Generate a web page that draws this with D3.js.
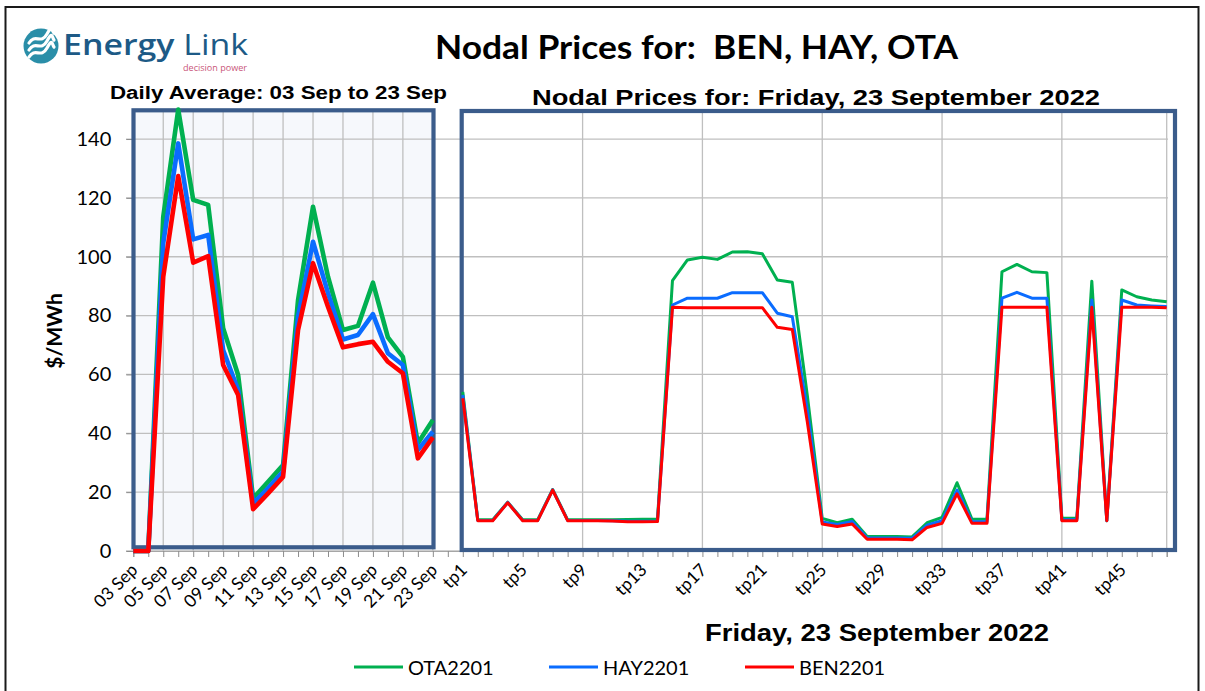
<!DOCTYPE html>
<html>
<head>
<meta charset="utf-8">
<script src="https://cdn.jsdelivr.net/npm/d3@7"></script>
<style>
    body { margin: 0; background: white; }
    text { white-space: pre; }
</style>
</head>
<body>
<svg id="chart" width="1205" height="691"></svg>
<script>

//  categories: the daily averages, then an empty slot, then the trading periods of the day
const days = ["03 Sep", "04 Sep", "05 Sep", "06 Sep", "07 Sep", "08 Sep", "09 Sep", "10 Sep", "11 Sep",
    "12 Sep", "13 Sep", "14 Sep", "15 Sep", "16 Sep", "17 Sep", "18 Sep", "19 Sep", "20 Sep", "21 Sep",
    "22 Sep", "23 Sep"];
const periods = ["tp1", "tp2", "tp3", "tp4", "tp5", "tp6", "tp7", "tp8", "tp9", "tp10", "tp11", "tp12",
    "tp13", "tp14", "tp15", "tp16", "tp17", "tp18", "tp19", "tp20", "tp21", "tp22", "tp23", "tp24",
    "tp25", "tp26", "tp27", "tp28", "tp29", "tp30", "tp31", "tp32", "tp33", "tp34", "tp35", "tp36",
    "tp37", "tp38", "tp39", "tp40", "tp41", "tp42", "tp43", "tp44", "tp45", "tp46", "tp47", "tp48"];

//  tick labels and grid
const dayLabels = ["03 Sep", "05 Sep", "07 Sep", "09 Sep", "11 Sep", "13 Sep", "15 Sep", "17 Sep",
    "19 Sep", "21 Sep", "23 Sep"];
const periodLabels = ["tp1", "tp5", "tp9", "tp13", "tp17", "tp21", "tp25", "tp29", "tp33", "tp37", "tp41", "tp45"];
const periodGrid = ["tp9", "tp17", "tp25", "tp33", "tp41", "tp48"];
const yTicks = [0, 20, 40, 60, 80, 100, 120, 140];

//  daily averages, $/MWh
const dailyOTA = [0, 0, 113.6, 150, 119.3, 117.6, 75.7, 59.8, 17.9, 23.5, 29.2, 85.3, 117.0, 93.2, 75.1,
    76.5, 91.2, 72.6, 66.0, 36.6, 44.5];
const dailyHAY = [0, 0, 104.6, 138.5, 105.9, 107.4, 68.3, 54.7, 16.2, 21.3, 27.0, 79.6, 105.1, 87.6, 71.9,
    73.4, 80.5, 67.2, 63.2, 34.3, 40.5];
const dailyBEN = [0, 0, 93.2, 127.4, 98.0, 100.2, 63.2, 53.0, 14.2, 19.6, 25.2, 75.1, 97.8, 83.0, 69.2,
    70.3, 71.1, 64.3, 60.4, 31.5, 38.6];

//  trading period prices for Friday 23 September, $/MWh
const periodOTA = [54.1, 10.6, 10.6, 16.6, 10.6, 10.6, 20.9, 10.6, 10.6, 10.6, 10.6, 10.7, 10.8, 10.8,
    91.9, 98.9, 99.8, 99.1, 101.6, 101.7, 101.0, 92.1, 91.3, 53.0, 11.1, 9.6, 10.8, 4.9, 4.9, 4.9, 4.8,
    9.6, 11.4, 23.2, 10.8, 10.8, 94.9, 97.4, 94.9, 94.6, 11.1, 11.1, 91.7, 10.3, 88.7, 86.4, 85.3, 84.7];
const periodHAY = [53.0, 10.4, 10.4, 16.5, 10.4, 10.4, 20.8, 10.4, 10.4, 10.4, 10.3, 10.1, 10.1, 10.2,
    83.6, 85.9, 85.9, 85.9, 87.8, 87.8, 87.8, 80.8, 79.6, 48.0, 9.9, 9.0, 10.0, 4.4, 4.4, 4.4, 4.3,
    8.8, 10.3, 20.7, 9.9, 9.9, 85.9, 87.9, 85.9, 85.9, 10.6, 10.6, 85.3, 10.3, 85.3, 83.6, 83.3, 83.1];
const periodBEN = [51.9, 10.3, 10.3, 16.4, 10.3, 10.3, 20.7, 10.3, 10.3, 10.3, 10.2, 9.9, 9.9, 10.0,
    82.8, 82.7, 82.7, 82.7, 82.7, 82.7, 82.7, 76.0, 75.3, 44.0, 9.2, 8.3, 9.2, 4.0, 4.0, 4.0, 3.8,
    8.0, 9.4, 19.4, 9.4, 9.4, 82.8, 82.8, 82.8, 82.8, 10.3, 10.3, 82.8, 10.3, 82.8, 82.8, 82.8, 82.7];

const series = [
    {name: "OTA2201", color: "#00b050", daily: dailyOTA, periods: periodOTA},
    {name: "HAY2201", color: "#0a6cff", daily: dailyHAY, periods: periodHAY},
    {name: "BEN2201", color: "#ff0000", daily: dailyBEN, periods: periodBEN},
];

const chart = {

    svg: null,
    x: null,
    y: null,

    frameColor: "#3b5c8b",
    gridColor: "#bfbfbf",
    calibri: "Lato, 'Open Sans', sans-serif",
    arial: "'Liberation Sans', Arial, sans-serif",

    initialize: function () {
        this.svg = d3.select("#chart");
        this.x = d3.scalePoint().domain([...days, "gap", ...periods]).range([133.3, 1166.7]);
        this.y = d3.scaleLinear().domain([0, 150]).range([551, 109.6]);

        this.drawBackground();
        this.drawGrid();
        this.drawAxes();
        this.drawFrames();
        this.drawLines();
        this.drawTitles();
        this.drawLegend();
        this.drawLogo();
    },

    drawBackground: function () {
        //  outer border of the whole picture
        this.svg.append("rect").attr("x", 5.5).attr("y", 7).attr("width", 1193).attr("height", 700)
            .attr("fill", "white").attr("stroke", "#1a1a1a").attr("stroke-width", 2);

        //  the daily panel has a pale fill
        this.svg.append("rect")
            .attr("x", this.x(days[0])).attr("y", 110)
            .attr("width", this.x(days[days.length - 1]) - this.x(days[0])).attr("height", 437)
            .attr("fill", "#f6f8fc");
    },

    drawGrid: function () {
        const x = this.x, y = this.y;

        this.svg.append("g").selectAll("line").data(yTicks).join("line")
            .attr("x1", 126).attr("x2", 1168)
            .attr("y1", d => y(d)).attr("y2", d => y(d))
            .attr("stroke", this.gridColor).attr("stroke-width", 1.3);

        this.svg.append("g").selectAll("line").data([...dayLabels.slice(1), ...periodGrid]).join("line")
            .attr("x1", d => x(d)).attr("x2", d => x(d))
            .attr("y1", y(150)).attr("y2", y(0))
            .attr("stroke", this.gridColor).attr("stroke-width", 1.3);
    },

    drawAxes: function () {
        const x = this.x, y = this.y;

        //  y axis, shared by both panels
        const yAxis = this.svg.append("g").attr("transform", `translate(${x(days[0])},0)`)
            .call(d3.axisLeft(y).tickValues(yTicks).tickSize(7).tickPadding(15));
        yAxis.select(".domain").remove();
        yAxis.selectAll("line").attr("stroke", "#8c8c8c");
        yAxis.selectAll("text").attr("font-family", this.calibri).attr("font-size", 20).attr("fill", "#000");

        //  a tick under every category
        const xMarks = this.svg.append("g").attr("transform", `translate(0,${y(0)})`)
            .call(d3.axisBottom(x).tickSize(6).tickFormat(""));
        xMarks.select(".domain").attr("stroke", "#a6a6a6");
        xMarks.selectAll("line").attr("stroke", "#8c8c8c");

        //  rotated labels, only on some categories
        const xLabels = this.svg.append("g").attr("transform", `translate(0,${y(0)})`)
            .call(d3.axisBottom(x).tickValues([...dayLabels, ...periodLabels]).tickSize(0));
        xLabels.select(".domain").remove();
        xLabels.selectAll("text")
            .attr("font-family", this.calibri).attr("font-size", 17.5).attr("fill", "#000")
            .attr("text-anchor", "end")
            .attr("y", 0).attr("dy", 0)
            .attr("transform", "translate(5,20) rotate(-45)");

        //  y axis title
        this.svg.append("text")
            .attr("transform", "translate(62,331) rotate(-90)")
            .attr("text-anchor", "middle")
            .attr("font-family", this.calibri).attr("font-weight", "bold").attr("font-size", 21)
            .text("$/MWh");

        //  x axis title
        this.svg.append("text")
            .attr("x", 705).attr("y", 641)
            .attr("textLength", 344).attr("lengthAdjust", "spacingAndGlyphs")
            .attr("font-family", this.arial).attr("font-weight", "bold").attr("font-size", 24)
            .text("Friday, 23 September 2022");
    },

    drawFrames: function () {
        //  the two heavy blue frames round the panels
        this.svg.append("rect").attr("x", 133.5).attr("y", 110.3).attr("width", 300).attr("height", 437)
            .attr("fill", "none").attr("stroke", this.frameColor).attr("stroke-width", 4.2);
        this.svg.append("rect").attr("x", 461.7).attr("y", 111).attr("width", 713.3).attr("height", 439)
            .attr("fill", "none").attr("stroke", this.frameColor).attr("stroke-width", 4.2);
    },

    drawLines: function () {
        const x = this.x, y = this.y;
        const dailyLine = d3.line().x((d, i) => x(days[i])).y(d => y(d));
        const periodLine = d3.line().x((d, i) => x(periods[i])).y(d => y(d));

        series.forEach(s => {
            this.svg.append("path").datum(s.daily)
                .attr("d", dailyLine)
                .attr("fill", "none").attr("stroke", s.color).attr("stroke-width", 4.6)
                .attr("stroke-linejoin", "round");
            this.svg.append("path").datum(s.periods)
                .attr("d", periodLine)
                .attr("fill", "none").attr("stroke", s.color).attr("stroke-width", 3)
                .attr("stroke-linejoin", "round");
        });
    },

    drawTitles: function () {
        this.svg.append("text")
            .attr("x", 435).attr("y", 59)
            .attr("textLength", 523).attr("lengthAdjust", "spacingAndGlyphs")
            .attr("font-family", this.calibri).attr("font-weight", "bold").attr("font-size", 33)
            .text("Nodal Prices for:  BEN, HAY, OTA");

        this.svg.append("text")
            .attr("x", 110).attr("y", 99)
            .attr("textLength", 337).attr("lengthAdjust", "spacingAndGlyphs")
            .attr("font-family", this.arial).attr("font-weight", "bold").attr("font-size", 18)
            .text("Daily Average: 03 Sep to 23 Sep");

        this.svg.append("text")
            .attr("x", 532).attr("y", 105)
            .attr("textLength", 568).attr("lengthAdjust", "spacingAndGlyphs")
            .attr("font-family", this.arial).attr("font-weight", "bold").attr("font-size", 22)
            .text("Nodal Prices for: Friday, 23 September 2022");
    },

    drawLegend: function () {
        const legendX = [354, 549, 745];
        const items = this.svg.append("g").selectAll("g").data(series).join("g")
            .attr("transform", (d, i) => `translate(${legendX[i]},667)`);
        items.append("line").attr("x1", 0).attr("x2", 49)
            .attr("stroke", d => d.color).attr("stroke-width", 3);
        items.append("text").attr("x", 54).attr("y", 7.5)
            .attr("font-family", this.calibri).attr("font-size", 20)
            .text(d => d.name);
    },

    drawLogo: function () {
        const logo = this.svg.append("g");
        logo.append("circle").attr("cx", 41).attr("cy", 46).attr("r", 17.5).attr("fill", "#2a8ea8");
        //  the white waves inside the disc
        [-7, 0, 7].forEach(dy => {
            logo.append("path")
                .attr("d", `M${29},${50 + dy} C${35},${40 + dy} ${41},${52 + dy} ${47},${41 + dy} S${52},${38 + dy} ${54},${40 + dy}`)
                .attr("fill", "none").attr("stroke", "white").attr("stroke-width", 3.2)
                .attr("stroke-linecap", "round");
        });

        const word = logo.append("text").attr("x", 63).attr("y", 55)
            .attr("font-family", "'Open Sans', sans-serif").attr("font-size", 29).attr("fill", "#1d5a86")
            .attr("textLength", 185).attr("lengthAdjust", "spacingAndGlyphs");
        word.append("tspan").attr("font-weight", 600).text("Energy ");
        word.append("tspan").attr("font-weight", 400).text("Link");

        logo.append("text").attr("x", 183).attr("y", 71)
            .attr("font-family", "'Open Sans', sans-serif").attr("font-size", 9.5).attr("fill", "#c9567a")
            .attr("textLength", 64).attr("lengthAdjust", "spacingAndGlyphs")
            .text("decision power");
    },
};

chart.initialize();

</script>
</body>
</html>
